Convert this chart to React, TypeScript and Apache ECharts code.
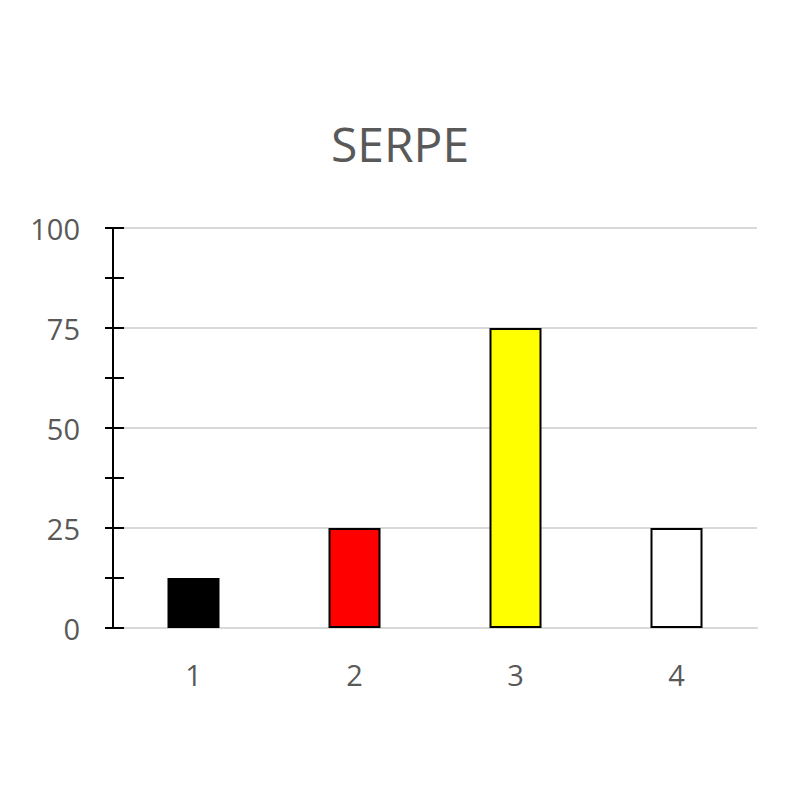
import * as echarts from 'echarts';
import React, { useEffect, useRef } from 'react';

const categories = ['1', '2', '3', '4'];
const values = [12.5, 25, 75, 25];
const barColors = ['#000000', '#ff0000', '#ffff00', '#ffffff'];

const textColor = '#595959';
const font = "'Open Sans', sans-serif";

const App: React.FC = () => {
  const chartRef = useRef<HTMLDivElement>(null);

  useEffect(() => {
    let chart: echarts.ECharts | undefined;
    if (chartRef.current) {
      chart = echarts.init(chartRef.current, undefined, { renderer: 'svg' });

      const tickStyle = { color: '#000', width: 2 };

      const option: echarts.EChartsOption = {
        animation: false,
        backgroundColor: '#ffffff',
        title: {
          text: 'SERPE',
          left: 'center',
          top: 114,
          textStyle: {
            fontFamily: font,
            fontSize: 48,
            fontWeight: 'normal',
            color: textColor,
          },
        },
        grid: { left: 113, right: 43, top: 228, bottom: 172 },
        xAxis: {
          type: 'category',
          data: categories,
          axisLine: { lineStyle: { color: '#d9d9d9', width: 2 } },
          axisTick: { show: false },
          axisLabel: {
            margin: 32,
            fontFamily: font,
            fontSize: 29,
            color: textColor,
          },
        },
        yAxis: [
          {
            type: 'value',
            min: 0,
            max: 100,
            interval: 25,
            axisLine: { show: true, lineStyle: tickStyle },
            axisTick: { show: false },
            splitLine: { lineStyle: { color: '#d9d9d9', width: 2 } },
            axisLabel: {
              margin: 33,
              fontFamily: font,
              fontSize: 29,
              color: textColor,
            },
          },
          {
            // crossing ticks: an axis shifted into the grid with long outward ticks
            type: 'value',
            position: 'left',
            offset: -11,
            min: 0,
            max: 100,
            interval: 25,
            axisLine: { show: false },
            axisTick: { show: true, length: 19, lineStyle: tickStyle },
            minorTick: { show: true, splitNumber: 2, length: 19, lineStyle: tickStyle },
            splitLine: { show: false },
            axisLabel: { show: false },
          },
        ],
        series: [
          {
            type: 'bar',
            barWidth: 52,
            data: values.map((v, i) => ({
              value: v,
              itemStyle: { color: barColors[i], borderColor: '#000', borderWidth: 2 },
            })),
            z: 3,
          },
          {
            type: 'line',
            yAxisIndex: 1,
            data: [],
            silent: true,
          },
        ],
      };

      chart.setOption(option);
    }
    return () => {
      chart?.dispose();
    };
  }, []);

  return (
    <div
      ref={chartRef}
      style={{ position: 'fixed', left: 0, top: 0, width: 800, height: 800 }}
    />
  );
};

export default App;
